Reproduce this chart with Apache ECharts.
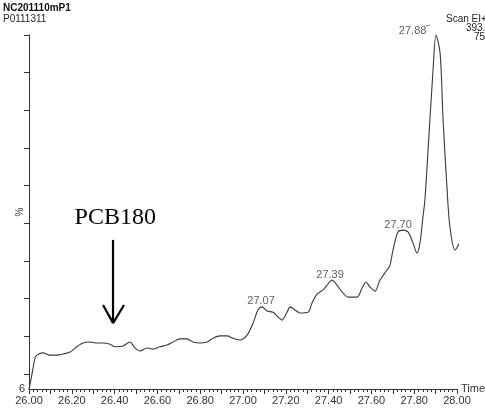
<!DOCTYPE html>
<html>
<head>
<meta charset="utf-8">
<script src="https://cdn.jsdelivr.net/npm/echarts@6/dist/echarts.min.js"></script>
<style>
html,body{margin:0;padding:0;background:#fff;}
#chart{width:485px;height:409px;}
</style>
</head>
<body>
<div id="chart"></div>
<script>
// Retention time (min) and relative intensity (%)
const times = [26.000,26.009,26.019,26.028,26.037,26.065,26.098,26.131,26.159,26.192,26.224,26.252,26.285,26.318,26.346,26.379,26.402,26.439,26.472,26.495,26.519,26.551,26.579,26.612,26.645,26.673,26.706,26.738,26.766,26.799,26.832,26.860,26.893,26.925,26.953,26.986,27.019,27.047,27.070,27.089,27.112,27.140,27.164,27.182,27.206,27.220,27.243,27.266,27.304,27.322,27.346,27.374,27.393,27.416,27.439,27.463,27.491,27.533,27.556,27.575,27.593,27.617,27.640,27.673,27.687,27.701,27.724,27.748,27.771,27.794,27.813,27.827,27.841,27.850,27.864,27.888,27.902,27.921,27.935,27.953,27.967,27.991,28.014];
const intensities = [6.0,8.4,11.6,14.2,15.0,15.6,15.0,15.0,15.3,15.8,17.2,18.2,18.5,18.2,18.2,17.9,17.2,17.4,18.5,16.9,16.1,16.9,16.6,17.2,17.7,18.5,19.3,19.3,18.5,18.2,18.5,19.5,20.1,20.1,19.5,19.0,20.3,23.5,27.0,27.8,26.7,26.4,25.1,24.3,26.4,27.8,27.0,26.2,26.4,28.8,31.2,32.3,33.6,34.9,33.6,31.8,30.4,30.4,32.8,34.4,33.1,32.0,34.9,37.6,38.9,42.9,47.7,48.2,47.7,44.8,42.1,44.8,51.7,56.2,68.7,90.7,100,95.2,77.4,59.6,49.0,42.9,45.0];

const xTickLabels = [26.00,26.20,26.40,26.60,26.80,27.00,27.20,27.40,27.60,27.80,28.00];
const yTicks = [10,20,30,40,50,60,70,80,90,100];
const yLabels = [6];

const peakLabels = ['27.07','27.39','27.70','27.88'];
const peakTimes = [27.089,27.416,27.748,27.902];
const peakValues = [27.8,34.9,48.2,100];

const annotationText = 'PCB180';
const arrowTime = 26.393;
const arrowTop = 45.6;
const arrowTip = 23.5;
const arrowHeadLeft = 26.346;
const arrowHeadRight = 26.444;
const arrowHeadLevel = 28.3;
const annotationLevel = 51.4;

const chart = echarts.init(document.getElementById('chart'), null, {renderer:'canvas'});
const font = 'Arial, "Liberation Sans", sans-serif';
const smallText = {fontFamily: font, fontSize: 10, fontWeight: 'normal', color: '#222'};
const labelOffsets = [[-1, 3], [-2, 3], [-5, 3], [-3, -4]];

chart.setOption({
  animation: false,
  backgroundColor: '#fff',
  grid: {left: 29, right: 28, top: 35, bottom: 20, containLabel: false, outerBoundsMode: 'none'},
  title: [
    {text: 'NC201110mP1', left: 3, top: 3, padding: 0, textStyle: Object.assign({}, smallText, {fontWeight: 'bold', color: '#111'})},
    {text: 'P0111311', left: 3, top: 14, padding: 0, textStyle: smallText},
    {text: 'Scan EI+', left: 446, top: 14, padding: 0, textStyle: smallText},
    {text: '393.8', left: 466, top: 23, padding: 0, textStyle: smallText},
    {text: '750', left: 474, top: 32, padding: 0, textStyle: smallText}
  ],
  xAxis: {
    type: 'value', min: 26, max: 28, interval: 0.1,
    name: 'Time', nameLocation: 'end', nameGap: 4,
    nameTextStyle: {fontFamily: font, fontSize: 11, color: '#333', verticalAlign: 'middle'},
    axisLine: {show: true, lineStyle: {color: '#333', width: 1}},
    axisTick: {show: true, inside: false, length: 5, lineStyle: {color: '#333'}},
    minorTick: {show: true, splitNumber: 5, length: 3, lineStyle: {color: '#333'}},
    axisLabel: {show: true, customValues: xTickLabels, formatter: v => v.toFixed(2), fontFamily: font, fontSize: 11, color: '#333', margin: 6},
    splitLine: {show: false}
  },
  yAxis: {
    type: 'value', min: 6, max: 100,
    name: '%', nameLocation: 'middle', nameRotate: 90, nameGap: 4, nameMoveOverlap: false,
    nameTextStyle: {fontFamily: font, fontSize: 10, color: '#333'},
    axisLine: {show: true, lineStyle: {color: '#333', width: 1}},
    axisTick: {show: true, inside: false, length: 5, customValues: yTicks, lineStyle: {color: '#333'}},
    axisLabel: {show: true, customValues: yLabels, fontFamily: font, fontSize: 11, color: '#333', margin: 4},
    splitLine: {show: false}
  },
  series: [
    {
      type: 'line',
      data: times.map((t, i) => [t, intensities[i]]),
      showSymbol: false,
      smooth: 0.3,
      clip: false,
      lineStyle: {color: '#3a3a3a', width: 1.1},
      markLine: {
        silent: true,
        symbol: ['none', 'none'],
        label: {show: false},
        lineStyle: {color: '#000', width: 2.2, type: 'solid'},
        data: [
          [{coord: [arrowTime, arrowTop]}, {coord: [arrowTime, arrowTip]}],
          [{coord: [arrowHeadLeft, arrowHeadLevel]}, {coord: [arrowTime, arrowTip]}],
          [{coord: [arrowHeadRight, arrowHeadLevel]}, {coord: [arrowTime, arrowTip]}]
        ]
      },
      markPoint: {
        silent: true,
        symbol: 'circle', symbolSize: 0,
        label: {show: true, position: 'inside', formatter: annotationText, fontFamily: '"Times New Roman", "Liberation Serif", serif', fontSize: 24, color: '#000'},
        data: [{coord: [arrowTime + 0.01, annotationLevel]}]
      }
    },
    {
      type: 'scatter',
      data: peakTimes.map((t, i) => ({value: [t, peakValues[i]], label: {position: i === 3 ? 'left' : 'top', offset: labelOffsets[i]}})),
      symbolSize: 0,
      label: {
        show: true, distance: 3,
        formatter: p => peakLabels[p.dataIndex] + (p.dataIndex === 3 ? '‾' : ''),
        fontFamily: font, fontSize: 11, color: '#333'
      }
    }
  ]
});
</script>
</body>
</html>
